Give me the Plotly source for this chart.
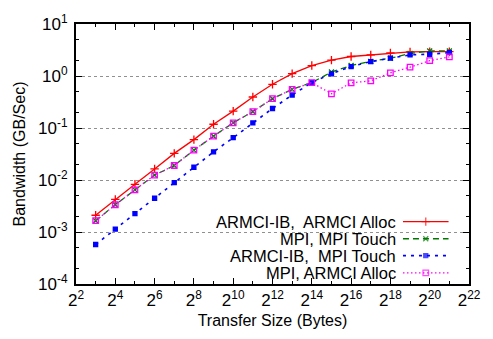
import plotly.graph_objects as go

# ---------------- data ----------------
sizes = [8, 16, 32, 64, 128, 256, 512, 1024, 2048, 4096, 8192, 16384,
         32768, 65536, 131072, 262144, 524288, 1048576, 2097152]

armci_ib_armci_alloc = [0.00210, 0.00423, 0.00827, 0.0163, 0.0325, 0.0598, 0.118, 0.211,
                        0.395, 0.693, 1.11, 1.59, 2.02, 2.37, 2.55, 2.78, 2.91, 2.94, 2.94]
mpi_mpi_touch = [0.00165, 0.00334, 0.00646, 0.0124, 0.0190, 0.0375, 0.0696, 0.126,
                 0.207, 0.366, 0.553, 0.749, 1.19, 1.59, 1.91, 2.20, 2.70, 3.03, 3.03]
armci_ib_mpi_touch = [0.000575, 0.00114, 0.00226, 0.00446, 0.0089, 0.0176, 0.0347, 0.0652,
                      0.125, 0.237, 0.431, 0.749, 1.10, 1.52, 1.89, 2.20, 2.55, 2.62, 2.82]
mpi_armci_alloc = [0.00165, 0.00334, 0.00646, 0.0124, 0.0190, 0.0375, 0.0696, 0.126,
                   0.207, 0.366, 0.553, 0.749, 0.454, 0.739, 0.806, 1.15, 1.48, 1.97, 2.34]

series_names = ["ARMCI-IB,  ARMCI Alloc", "MPI, MPI Touch",
                "ARMCI-IB,  MPI Touch", "MPI, ARMCI Alloc"]

x_exponents = list(range(2, 23, 2))
x_minor_exponents = list(range(3, 22, 2))
y_exponents = [-4, -3, -2, -1, 0, 1]

# ---------------- styles ----------------
styles = [
    dict(color="#ff0000", dash="solid", symbol="cross-thin", size=6, width=1.3),
    dict(color="#007800", dash="6px,4px", symbol="x-thin", size=5, width=1.3),
    dict(color="#0000ff", dash="3px,5px", symbol="square", size=4, width=1.6),
    dict(color="#ff00ff", dash="1.5px,2.5px", symbol="square-open", size=5.5, width=1.3),
]
all_series = [armci_ib_armci_alloc, mpi_mpi_touch, armci_ib_mpi_touch, mpi_armci_alloc]

fig = go.Figure()

for name, ys, st in zip(series_names, all_series, styles):
    fig.add_trace(go.Scatter(
        x=sizes, y=ys, mode="lines+markers", name=name, showlegend=False,
        line=dict(color=st["color"], dash=st["dash"], width=st["width"]),
        marker=dict(symbol=st["symbol"], size=st["size"], color=st["color"],
                    line=dict(color=st["color"], width=1.3)),
    ))

# ---------------- gnuplot-style legend (text left, sample right) ----------------
leg_rows = [0.240, 0.174, 0.109, 0.043]
leg_x0, leg_x1, leg_text_x = 0.832, 0.948, 0.816

fig.add_shape(type="rect", xref="paper", yref="paper", x0=0.242, x1=0.973,
              y0=0.008, y1=0.285, fillcolor="white", line=dict(width=0),
              layer="between")

for name, st, ry in zip(series_names, styles, leg_rows):
    fig.add_trace(go.Scatter(
        x=[leg_x0, (leg_x0 + leg_x1) / 2, leg_x1], y=[ry, ry, ry],
        xaxis="x2", yaxis="y2", mode="lines+markers", showlegend=False,
        hoverinfo="skip",
        line=dict(color=st["color"], dash=st["dash"], width=st["width"]),
        marker=dict(symbol=st["symbol"], size=[0, st["size"], 0], color=st["color"],
                    line=dict(color=st["color"], width=1.3)),
    ))
    fig.add_annotation(x=leg_text_x, y=ry, xref="paper", yref="paper",
                       text=name, showarrow=False, xanchor="right", yanchor="middle",
                       font=dict(size=16.5, color="#000000"), borderpad=0)

font_family = "Liberation Sans, Arial, sans-serif"

fig.update_layout(
    width=493, height=339,
    margin=dict(l=76, r=12, t=21, b=52),
    paper_bgcolor="white", plot_bgcolor="white",
    font=dict(family=font_family, size=16, color="#000000"),
    xaxis=dict(
        type="log", range=[2 * 0.30103, 22 * 0.30103],
        tickmode="array", tickvals=[2 ** e for e in x_exponents],
        ticktext=[f"2<sup>{e}</sup>" for e in x_exponents],
        ticks="inside", ticklen=6, tickwidth=1.2, tickcolor="black",
        minor=dict(tickmode="array", tickvals=[2 ** e for e in x_minor_exponents],
                   ticks="inside", ticklen=3, tickwidth=1.2, tickcolor="black",
                   showgrid=False),
        showgrid=False, showline=True, linecolor="black", linewidth=2,
        mirror="allticks", zeroline=False,
        title=dict(text="Transfer Size (Bytes)", font=dict(size=16), standoff=5),
        tickfont=dict(size=17),
    ),
    yaxis=dict(
        type="log", range=[-4, 1],
        tickmode="array", tickvals=[10.0 ** e for e in y_exponents],
        ticktext=[f"10<sup>{e}</sup>" for e in y_exponents],
        ticks="inside", ticklen=6, tickwidth=1.2, tickcolor="black",
        minor=dict(dtick="D2", ticks="inside", ticklen=3, tickwidth=1.2,
                   tickcolor="black", showgrid=False),
        showgrid=True, gridcolor="#909090", griddash="dot", gridwidth=1,
        showline=True, linecolor="black", linewidth=2,
        mirror="allticks", zeroline=False,
        title=dict(text="Bandwidth (GB/Sec)", font=dict(size=16), standoff=8),
        tickfont=dict(size=17), ticklabelstandoff=3,
    ),
    xaxis2=dict(overlaying="x", range=[0, 1], visible=False, anchor="y2"),
    yaxis2=dict(overlaying="y", range=[0, 1], visible=False, anchor="x2"),
)

fig.write_html("out.html")
